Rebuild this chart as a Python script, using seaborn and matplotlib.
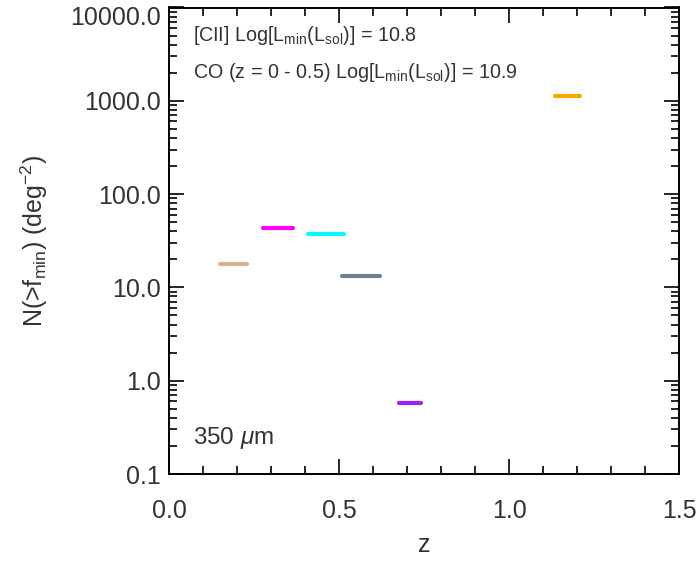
import numpy as np
import pandas as pd
import matplotlib
matplotlib.use("Agg")
import matplotlib.pyplot as plt
import matplotlib.transforms as mtransforms
from matplotlib.ticker import FixedLocator, MultipleLocator, FormatStrFormatter, LogLocator, NullFormatter
import seaborn as sns

# Data
z_lo = [0.15, 0.275, 0.41, 0.51, 0.675, 1.135]
z_hi = [0.23, 0.365, 0.515, 0.62, 0.74, 1.21]
n_val = [17.8, 43.0, 37.6, 13.3, 0.58, 1125.0]
colors = ["#D2B48C", "#FF00FF", "#00FFFF", "#708090", "#A020F0", "#FFA500"]
y_ticks = [0.1, 1.0, 10.0, 100.0, 1000.0, 10000.0]
x_ticks = [0.0, 0.5, 1.0, 1.5]

rows = []
for i, (a, b, v) in enumerate(zip(z_lo, z_hi, n_val)):
    rows.append({"seg": i, "z": a, "N": v})
    rows.append({"seg": i, "z": b, "N": v})
df = pd.DataFrame(rows)

sns.set_theme(style="ticks")
plt.rcParams['font.family'] = ['Liberation Sans', 'DejaVu Sans']
plt.rcParams['mathtext.fontset'] = 'custom'
plt.rcParams['mathtext.rm'] = 'Liberation Sans'
plt.rcParams['mathtext.it'] = 'Liberation Sans:italic'
plt.rcParams['mathtext.sf'] = 'Liberation Sans'

txt = "#333333"
fig = plt.figure(figsize=(6.96, 5.62), dpi=100)
ax = fig.add_axes([169/696, (562-474)/562, (679-169)/696, (474-7.5)/562])

sns.lineplot(data=df, x="z", y="N", hue="seg", units="seg", estimator=None,
             palette=colors, linewidth=3.0, legend=False, ax=ax)

ax.set_yscale("log")
ax.set_xlim(0, 1.5)
ax.set_ylim(0.1, 10000)
ax.yaxis.set_major_locator(FixedLocator(y_ticks))
ax.yaxis.set_major_formatter(FormatStrFormatter("%.1f"))
ax.yaxis.set_minor_locator(LogLocator(base=10, subs=np.arange(2, 10)))
ax.yaxis.set_minor_formatter(NullFormatter())
ax.xaxis.set_major_locator(FixedLocator(x_ticks))
ax.xaxis.set_major_formatter(FormatStrFormatter("%.1f"))
ax.xaxis.set_minor_locator(MultipleLocator(0.1))

ax.tick_params(which="both", direction="in", top=True, right=True, colors="black",
               labelcolor=txt, labelsize=18, width=1.2)
ax.tick_params(which="major", length=11)
ax.tick_params(which="minor", length=5.5)
ax.tick_params(axis="y", which="major", pad=6)
ax.tick_params(axis="x", which="major", pad=18)
for s in ax.spines.values():
    s.set_linewidth(1.4)
    s.set_color("black")

ax.set_xlabel("z", fontsize=18, labelpad=7, color=txt)
ax.set_ylabel(r"N(>f$_{\rm min}$) (deg$^{-2}$)", fontsize=18, labelpad=14, color=txt)

ax.text(0.047, 0.941, r"[CII] Log[L$_{\rm min}$(L$_{\rm sol}$)] = 10.8", transform=ax.transAxes,
        fontsize=14.2, va="center", ha="left", color=txt)
ax.text(0.047, 0.860, r"CO (z = 0 - 0.5) Log[L$_{\rm min}$(L$_{\rm sol}$)] = 10.9", transform=ax.transAxes,
        fontsize=14.2, va="center", ha="left", color=txt)
ax.text(0.047, 0.078, r"350 $\mu$m", transform=ax.transAxes,
        fontsize=17.5, va="center", ha="left", color=txt)

# shift the top y tick label slightly down, as in the reference
fig.canvas.draw()
top_tick = ax.yaxis.get_major_ticks()[len(y_ticks) - 1]
off = mtransforms.ScaledTranslation(0, -6/72, fig.dpi_scale_trans)
top_tick.label1.set_transform(top_tick.label1.get_transform() + off)

fig.savefig("out.png", dpi=100)
